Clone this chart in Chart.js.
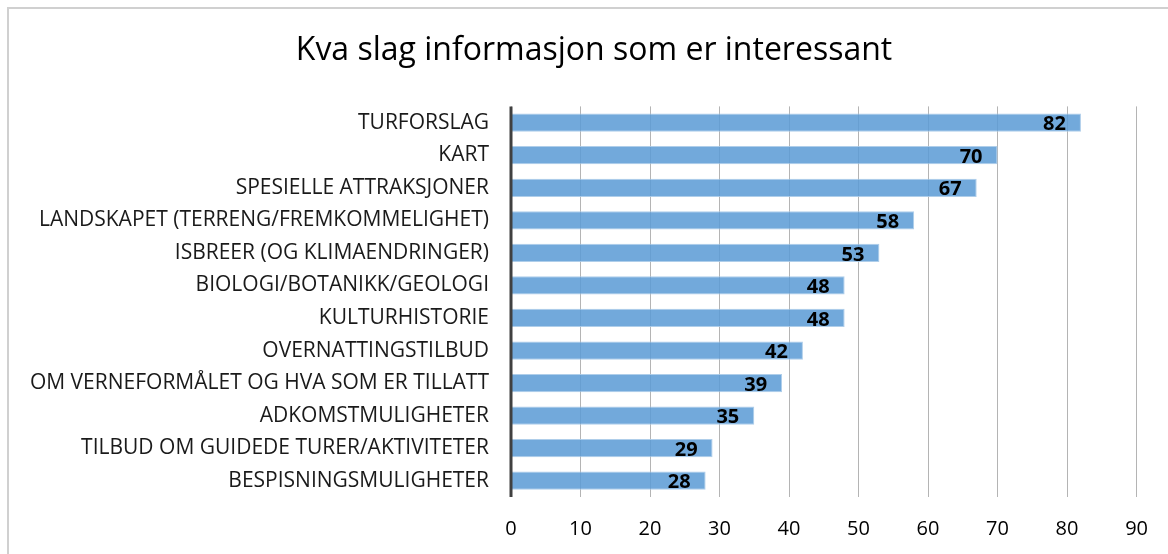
<!DOCTYPE html>
<html>
<head>
<meta charset="utf-8">
<script src="https://cdn.jsdelivr.net/npm/chart.js@4"></script>
<style>
  html, body { margin: 0; padding: 0; background: #fff; overflow: hidden; }
  #wrap { position: relative; width: 1168px; height: 554px; }
  #frame { position: absolute; left: 7px; top: 7px; width: 1200px; height: 600px;
           border-left: 2px solid #d0d0d0; border-top: 2px solid #d0d0d0; }
  canvas { position: absolute; left: 0; top: 0; }
</style>
</head>
<body>
<div id="wrap">
  <div id="frame"></div>
  <canvas id="c" width="1168" height="554"></canvas>
</div>
<script>
const chartTitle = 'Kva slag informasjon som er interessant';
const categories = [
  'TURFORSLAG',
  'KART',
  'SPESIELLE ATTRAKSJONER',
  'LANDSKAPET (TERRENG/FREMKOMMELIGHET)',
  'ISBREER (OG KLIMAENDRINGER)',
  'BIOLOGI/BOTANIKK/GEOLOGI',
  'KULTURHISTORIE',
  'OVERNATTINGSTILBUD',
  'OM VERNEFORMÅLET OG HVA SOM ER TILLATT',
  'ADKOMSTMULIGHETER',
  'TILBUD OM GUIDEDE TURER/AKTIVITETER',
  'BESPISNINGSMULIGHETER'
];
const values = [82, 70, 67, 58, 53, 48, 48, 42, 39, 35, 29, 28];
const xMin = 0, xMax = 90, xStep = 10;

const FONT = '"Open Sans", Lato, sans-serif';

// value labels drawn just inside the end of each bar
const barLabels = {
  id: 'barLabels',
  afterDatasetsDraw(chart) {
    const ctx = chart.ctx;
    const meta = chart.getDatasetMeta(0);
    ctx.save();
    ctx.font = 'bold 20px ' + FONT;
    ctx.fillStyle = '#000';
    ctx.textAlign = 'right';
    ctx.textBaseline = 'middle';
    meta.data.forEach(function (bar, i) {
      ctx.fillText(String(values[i]), bar.x - 15, bar.y + 2);
    });
    ctx.restore();
  }
};

// thick dark axis line at zero
const zeroLine = {
  id: 'zeroLine',
  afterDatasetsDraw(chart) {
    const ctx = chart.ctx;
    const a = chart.chartArea;
    const x = chart.scales.x.getPixelForValue(0);
    ctx.save();
    ctx.strokeStyle = '#404040';
    ctx.lineWidth = 3;
    ctx.beginPath();
    ctx.moveTo(x, a.top);
    ctx.lineTo(x, a.bottom);
    ctx.stroke();
    ctx.restore();
  }
};

// the title in the original is centred on a box that starts a bit right of the canvas edge
const titleShift = {
  id: 'titleShift',
  afterLayout(chart) {
    if (chart.titleBlock) chart.titleBlock.left = 50;
  }
};

new Chart(document.getElementById('c'), {
  type: 'bar',
  data: {
    labels: categories,
    datasets: [{
      data: values,
      backgroundColor: 'rgba(91, 155, 213, 0.86)',
      borderColor: 'rgba(166, 201, 232, 0.9)',
      borderWidth: 1,
      barPercentage: 0.56,
      categoryPercentage: 1.0
    }]
  },
  options: {
    indexAxis: 'y',
    responsive: false,
    animation: false,
    layout: { padding: { left: 0, right: 30, top: 8, bottom: 0 } },
    plugins: {
      legend: { display: false },
      tooltip: { enabled: false },
      title: {
        display: true,
        text: chartTitle,
        color: '#000',
        font: { family: FONT, size: 32, weight: 'normal' },
        padding: { top: 24, bottom: 36 }
      }
    },
    scales: {
      x: {
        min: xMin,
        max: xMax,
        afterFit: function (scale) { scale.height = 57; },
        ticks: { stepSize: xStep, color: '#000', padding: 20, font: { family: FONT, size: 20 } },
        grid: { color: '#b4b4b4', lineWidth: 1, drawTicks: false },
        border: { display: false }
      },
      y: {
        afterFit: function (scale) { scale.width = 511; },
        ticks: { color: '#1a1a1a', padding: 22, font: { family: FONT, size: 21 } },
        grid: { display: false, drawTicks: false },
        border: { display: false }
      }
    }
  },
  plugins: [barLabels, zeroLine, titleShift]
});
</script>
</body>
</html>
